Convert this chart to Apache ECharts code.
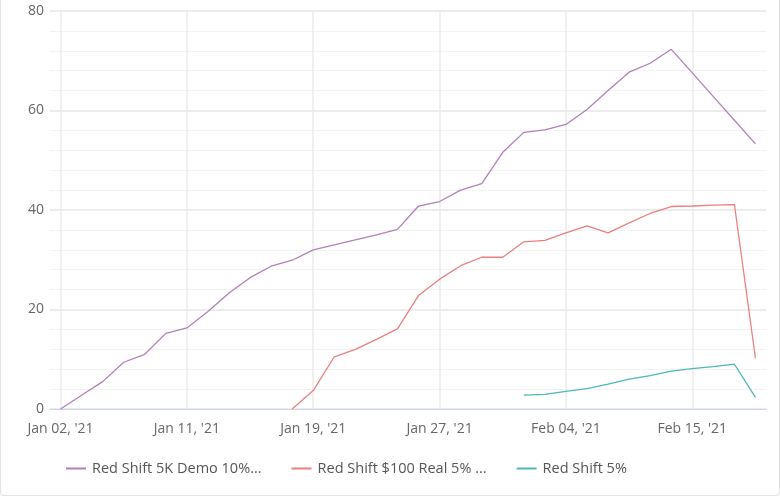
<!DOCTYPE html>
<html>
<head>
<meta charset="utf-8">
<script src="https://cdn.jsdelivr.net/npm/echarts@6/dist/echarts.min.js"></script>
<style>
html,body{margin:0;padding:0;background:#fff;}
#wrap{position:absolute;left:0;top:0;width:780px;height:496px;box-sizing:border-box;border-left:1px solid #e3e3e3;border-right:1px solid #e3e3e3;border-bottom:1px solid #e3e3e3;border-radius:0 0 4px 4px;}
#chart{position:absolute;left:0;top:0;width:780px;height:496px;}
</style>
</head>
<body>
<div id="wrap"></div>
<div id="chart"></div>
<script>
const categories = ["Jan 02, '21","Jan 04, '21","Jan 05, '21","Jan 06, '21","Jan 07, '21","Jan 08, '21",
  "Jan 11, '21","Jan 12, '21","Jan 13, '21","Jan 14, '21","Jan 15, '21","Jan 18, '21",
  "Jan 19, '21","Jan 20, '21","Jan 21, '21","Jan 22, '21","Jan 25, '21","Jan 26, '21",
  "Jan 27, '21","Jan 28, '21","Jan 29, '21","Feb 01, '21","Feb 02, '21","Feb 03, '21",
  "Feb 04, '21","Feb 05, '21","Feb 08, '21","Feb 09, '21","Feb 10, '21","Feb 11, '21",
  "Feb 15, '21","Feb 16, '21","Feb 17, '21","Feb 18, '21"];

const seriesNames = ["Red Shift 5K Demo 10%...", "Red Shift $100 Real 5% ...", "Red Shift 5%"];

const demo10 = [0, 2.75, 5.5, 9.4, 11.0, 15.2, 16.3, 19.6, 23.3, 26.4, 28.7, 29.9,
  32.0, 33.0, 34.0, 35.0, 36.1, 40.8, 41.7, 44.0, 45.3, 51.6, 55.6, 56.1,
  57.2, 60.2, 64.0, 67.7, 69.5, 72.3, 67.55, 62.8, 58.05, 53.3];

const real5 = [null, null, null, null, null, null, null, null, null, null, null, 0,
  3.7, 10.5, 12.0, 14.0, 16.1, 22.8, 26.1, 28.8, 30.5, 30.5, 33.6, 33.9,
  35.4, 36.8, 35.4, 37.4, 39.3, 40.7, 40.8, 41.0, 41.1, 10.2];

const shift5 = [null, null, null, null, null, null, null, null, null, null, null, null,
  null, null, null, null, null, null, null, null, null, null, 2.8, 2.95,
  3.55, 4.1, 5.0, 6.0, 6.7, 7.6, 8.1, 8.5, 9.0, 2.35];

const yTicks = { min: 0, max: 80, interval: 20 };

const colors = ['#b37fbb', '#e8807f', '#4fb8b6'];
const font = '"Open Sans", "Noto Sans", sans-serif';

const chart = echarts.init(document.getElementById('chart'), null, { renderer: 'canvas' });
const mk = (name, data, color) => ({
  name: name, type: 'line', data: data, symbol: 'none', showSymbol: false,
  connectNulls: false, animation: false,
  lineStyle: { width: 1.3, color: color }, itemStyle: { color: color }
});
chart.setOption({
  animation: false,
  color: colors,
  textStyle: { fontFamily: font },
  grid: { left: 50, right: 14, top: 11, bottom: 87, containLabel: false },
  xAxis: {
    type: 'category',
    data: categories,
    boundaryGap: true,
    axisLine: { show: true, lineStyle: { color: '#ccd6eb', width: 1 } },
    axisTick: { show: false },
    axisLabel: { interval: 5, color: '#666666', fontSize: 14, fontFamily: font, margin: 13 },
    splitLine: { show: true, interval: 5, alignWithLabel: true, lineStyle: { color: '#ebebeb', width: 1.5 } }
  },
  yAxis: {
    type: 'value',
    min: yTicks.min, max: yTicks.max, interval: yTicks.interval,
    axisLine: { show: false },
    axisTick: { show: false },
    axisLabel: { color: '#666666', fontSize: 14, fontFamily: font, margin: 6 },
    splitLine: { show: true, lineStyle: { color: '#e6e6e6', width: 1.5 } },
    minorTick: { show: false, splitNumber: 5 },
    minorSplitLine: { show: true, lineStyle: { color: '#f3f3f3', width: 1 } }
  },
  legend: {
    left: 61, top: 456,
    itemWidth: 20, itemHeight: 2, itemGap: 30,
    icon: 'rect',
    textStyle: { color: '#555555', fontSize: 14.5, fontFamily: font, padding: [0, 0, 0, 1] },
    data: seriesNames
  },
  series: [
    mk(seriesNames[0], demo10, colors[0]),
    mk(seriesNames[1], real5, colors[1]),
    mk(seriesNames[2], shift5, colors[2])
  ]
});
</script>
</body>
</html>
